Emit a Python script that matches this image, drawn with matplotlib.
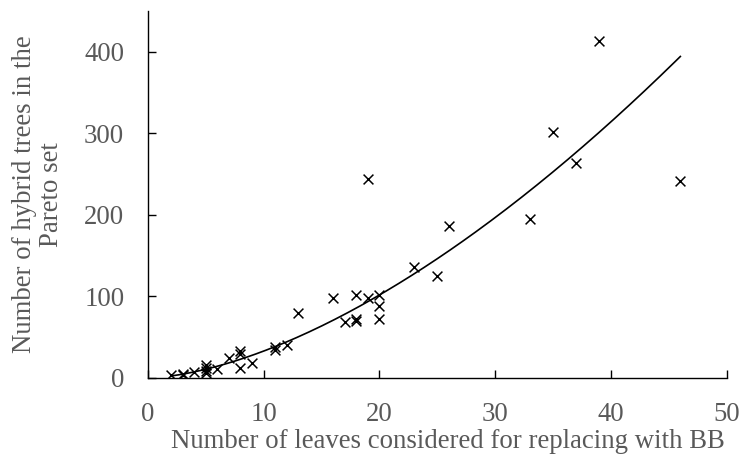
import numpy as np
import matplotlib
matplotlib.use('Agg')
import matplotlib.pyplot as plt

plt.rcParams['font.family'] = ['Liberation Serif', 'DejaVu Serif']

# leaves considered vs hybrid trees in the Pareto set
leaves = [2, 3, 3, 4, 5, 5, 5, 5, 6, 7, 8, 8, 8, 9, 11, 11, 12, 13, 16, 17,
          18, 18, 18, 19, 19, 20, 20, 20, 23, 25, 26, 33, 35, 37, 39, 46]
trees = [4, 3, 5, 7, 6, 9, 12, 16, 11, 24, 12, 29, 33, 18, 34, 38, 40, 80, 98, 68,
         70, 72, 102, 98, 244, 72, 88, 102, 136, 125, 186, 195, 302, 264, 413, 241]
xticks = [0, 10, 20, 30, 40, 50]
yticks = [0, 100, 200, 300, 400]

x = np.array(leaves, dtype=float)
y = np.array(trees, dtype=float)

# power trendline (fit in log space)
b, loga = np.polyfit(np.log(x), np.log(y), 1)
xs = np.linspace(x.min(), x.max(), 200)
ys = np.exp(loga) * xs ** b

fig = plt.figure(figsize=(7.43, 4.57), dpi=100)
ax = fig.add_axes([0.199, 0.173, 0.779, 0.803])
ax.scatter(x, y, marker='x', s=50, color='black', linewidths=1.1, zorder=3)
ax.plot(xs, ys, color='black', lw=1.2)

ax.set_xlim(0, 50)
ax.set_ylim(0, 450)
ax.set_xticks(xticks)
ax.set_yticks(yticks)
for s in ['top', 'right']:
    ax.spines[s].set_visible(False)
for s in ['left', 'bottom']:
    ax.spines[s].set_linewidth(1.0)
ax.tick_params(direction='in', length=5.5, width=1.0, labelsize=19.3,
               labelcolor='#595959')
ax.tick_params(axis='x', pad=17)
ax.tick_params(axis='y', pad=17)

ax.set_xlabel('Number of leaves considered for replacing with BB',
              fontsize=19.3, color='#595959')
ax.xaxis.set_label_coords(0.518, -0.138)
ax.set_ylabel('Number of hybrid trees in the\nPareto set', fontsize=19.3,
              color='#595959', linespacing=1.1)
ax.yaxis.set_label_coords(-0.145, 0.5)

plt.savefig('out.png', dpi=100)
